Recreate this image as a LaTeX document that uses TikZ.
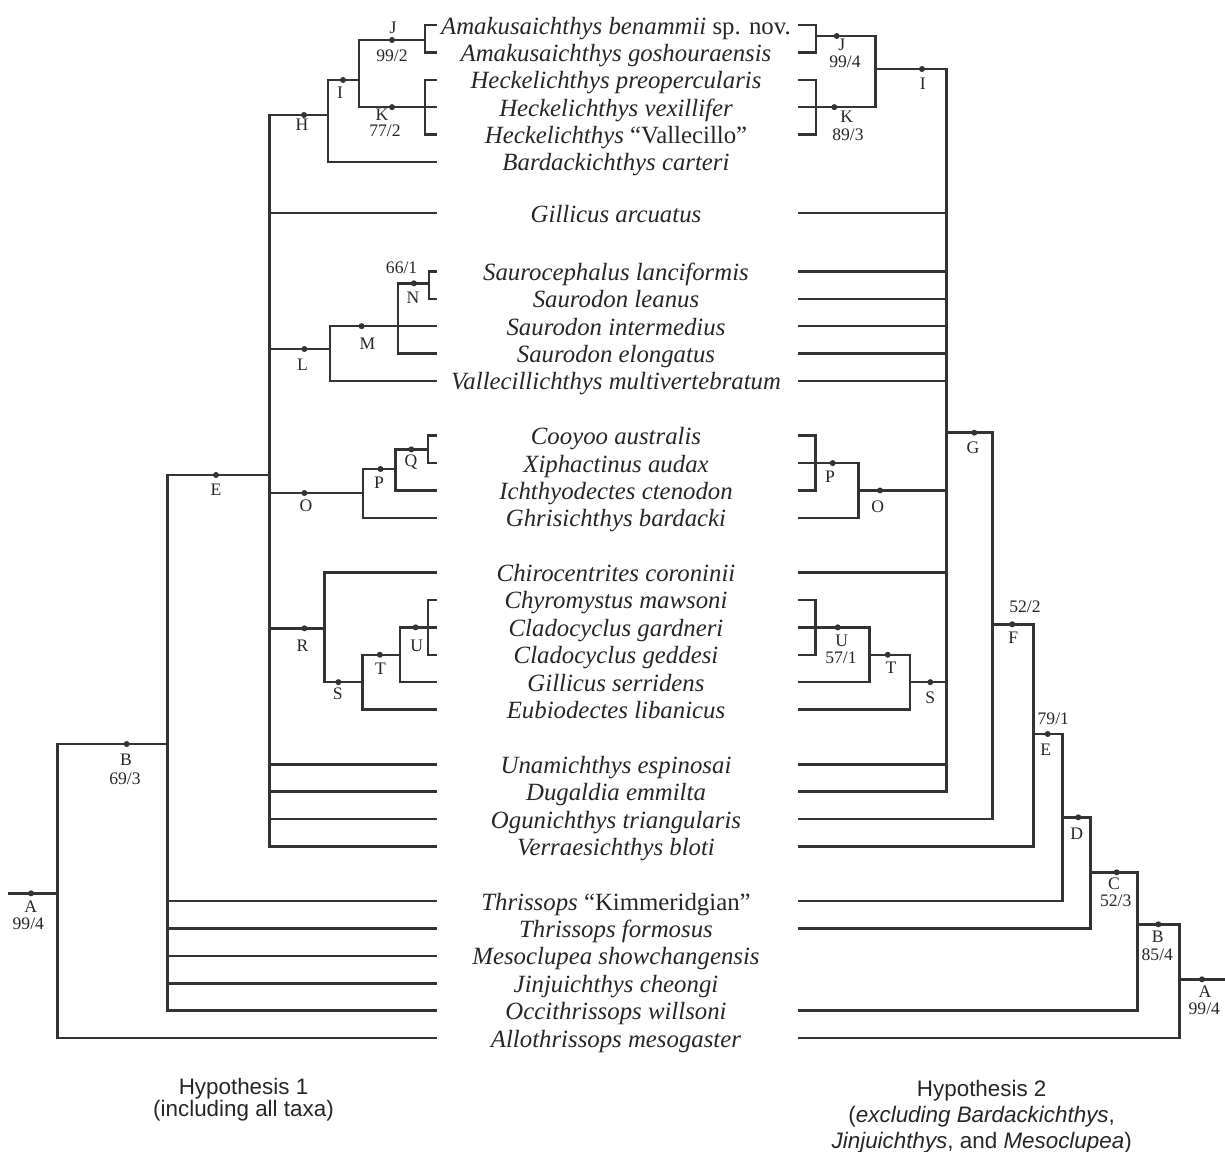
\documentclass[tikz,border=0pt]{standalone}
\usepackage{fontspec}
\setmainfont{Liberation Serif}
\newfontfamily\hypfont{Liberation Sans}
\definecolor{linecol}{HTML}{333333}
\definecolor{txtcol}{HTML}{262626}
\begin{document}
\begin{tikzpicture}[x=0.5pt,y=-0.5pt,
  br/.style={draw=linecol, line width=1.25pt, line cap=butt, line join=miter},
  dotn/.style={circle, fill=linecol, inner sep=0pt, minimum size=3pt},
  lab/.style={font=\fontsize{8.8}{10}\selectfont, text=txtcol, inner sep=0pt},
  taxon/.style={font=\fontsize{12.4}{14}\selectfont, text=txtcol, anchor=base, inner sep=0pt},
  hyp/.style={font=\hypfont\fontsize{11.2}{13}\selectfont, text=txtcol, align=center, inner sep=0pt}]
\useasboundingbox (0,0) rectangle (1225,1151);
% rows
\foreach \i/\s/\t in {
 1/0/{\textit{Amakusaichthys benammii} sp. nov.},
 2/1/{\textit{Amakusaichthys goshouraensis}},
 3/2/{\textit{Heckelichthys preopercularis}},
 4/3/{\textit{Heckelichthys vexillifer}},
 5/4/{\textit{Heckelichthys} “Vallecillo”},
 6/5/{\textit{Bardackichthys carteri}},
 7/6.87/{\textit{Gillicus arcuatus}},
 8/9/{\textit{Saurocephalus lanciformis}},
 9/10/{\textit{Saurodon leanus}},
 10/11/{\textit{Saurodon intermedius}},
 11/12/{\textit{Saurodon elongatus}},
 12/13/{\textit{Vallecillichthys multivertebratum}},
 13/15/{\textit{Cooyoo australis}},
 14/16/{\textit{Xiphactinus audax}},
 15/17/{\textit{Ichthyodectes ctenodon}},
 16/18/{\textit{Ghrisichthys bardacki}},
 17/20/{\textit{Chirocentrites coroninii}},
 18/21/{\textit{Chyromystus mawsoni}},
 19/22/{\textit{Cladocyclus gardneri}},
 20/23/{\textit{Cladocyclus geddesi}},
 21/24/{\textit{Gillicus serridens}},
 22/25/{\textit{Eubiodectes libanicus}},
 23/27/{\textit{Unamichthys espinosai}},
 24/28/{\textit{Dugaldia emmilta}},
 25/29/{\textit{Ogunichthys triangularis}},
 26/30/{\textit{Verraesichthys bloti}},
 27/32/{\textit{Thrissops} “Kimmeridgian”},
 28/33/{\textit{Thrissops formosus}},
 29/34/{\textit{Mesoclupea showchangensis}},
 30/35/{\textit{Jinjuichthys cheongi}},
 31/36/{\textit{Occithrissops willsoni}},
 32/37/{\textit{Allothrissops mesogaster}}} {
  \coordinate (l\i) at (437,{25+27.38*\s});
  \coordinate (r\i) at (798,{25+27.38*\s});
  \node[taxon] (t\i) at (616,{34+27.38*\s}) {\t};
}
% ---------- left tree coordinates ----------
\coordinate (lroot) at (8.3,893.3);
\coordinate (lA) at (57.7,893.3);
\coordinate (lB) at (167.3,744);
\coordinate (lE) at (269.3,475);
\coordinate (lH) at (328,115);
\coordinate (lI) at (358.8,80);
\coordinate (lJ) at (425,40);
\coordinate (lK) at (425,107.14);
\coordinate (lL) at (330,349);
\coordinate (lM) at (398,326.18);
\coordinate (lN) at (429,283.3);
\coordinate (lO) at (363,493);
\coordinate (lP) at (395.6,469);
\coordinate (lQ) at (428,449.4);
\coordinate (lR) at (324.4,628.3);
\coordinate (lS) at (362.3,682.12);
\coordinate (lT) at (399.8,654.74);
\coordinate (lU) at (428,627.36);
% left edges
\draw[br] (lroot) -- (lA);
\draw[br] (lA) |- (lB) (lA) |- (l32);
\draw[br] (lB) |- (lE) (lB) |- (l27) (lB) |- (l28) (lB) |- (l29) (lB) |- (l30) (lB) |- (l31);
\draw[br] (lE) |- (lH) (lE) |- (l7) (lE) |- (lL) (lE) |- (lO) (lE) |- (lR)
          (lE) |- (l23) (lE) |- (l24) (lE) |- (l25) (lE) |- (l26);
\draw[br] (lH) |- (lI) (lH) |- (l6);
\draw[br] (lI) |- (lJ) (lI) |- (lK);
\draw[br] (lJ) |- (l1) (lJ) |- (l2);
\draw[br] (lK) |- (l3) (lK) |- (l4) (lK) |- (l5);
\draw[br] (lL) |- (lM) (lL) |- (l12);
\draw[br] (lM) |- (lN) (lM) |- (l10) (lM) |- (l11);
\draw[br] (lN) |- (l8) (lN) |- (l9);
\draw[br] (lO) |- (lP) (lO) |- (l16);
\draw[br] (lP) |- (lQ) (lP) |- (l15);
\draw[br] (lQ) |- (l13) (lQ) |- (l14);
\draw[br] (lR) |- (l17) (lR) |- (lS);
\draw[br] (lS) |- (lT) (lS) |- (l22);
\draw[br] (lT) |- (lU) (lT) |- (l21);
\draw[br] (lU) |- (l18) (lU) |- (l19) (lU) |- (l20);
% left dots
\node[dotn] (dlA) at (31,893.3) {};
\node[dotn] (dlB) at (126.7,744) {};
\node[dotn] (dlE) at (216,475) {};
\node[dotn] (dlH) at (304,115) {};
\node[dotn] (dlI) at (343,80) {};
\node[dotn] (dlJ) at (392,40) {};
\node[dotn] (dlK) at (392,107.14) {};
\node[dotn] (dlL) at (304.4,349) {};
\node[dotn] (dlM) at (361.6,326.18) {};
\node[dotn] (dlN) at (413.9,283.3) {};
\node[dotn] (dlO) at (304.4,493) {};
\node[dotn] (dlP) at (380.5,469) {};
\node[dotn] (dlQ) at (411.4,449.4) {};
\node[dotn] (dlR) at (304.4,628.3) {};
\node[dotn] (dlS) at (338.4,682.12) {};
\node[dotn] (dlT) at (379.8,654.74) {};
\node[dotn] (dlU) at (415.6,627.36) {};
% left labels
\node[lab] (alJ) at (393,28) {J};
\node[lab] (blJ) at (392,56) {99/2};
\node[lab] (alI) at (340,93) {I};
\node[lab] (alK) at (382,115) {K};
\node[lab] (blK) at (385,131) {77/2};
\node[lab] (alH) at (302,125) {H};
\node[lab] (alL) at (302.6,365) {L};
\node[lab] (alM) at (367.5,344) {M};
\node[lab] (blN) at (401.6,268) {66/1};
\node[lab] (alN) at (413,298) {N};
\node[lab] (alQ) at (411,462) {Q};
\node[lab] (alP) at (379,483) {P};
\node[lab] (alO) at (306,506) {O};
\node[lab] (alR) at (302.6,646) {R};
\node[lab] (alS) at (337.7,694) {S};
\node[lab] (alT) at (380.5,669) {T};
\node[lab] (alU) at (416.7,645.7) {U};
\node[lab] (alE) at (216,490) {E};
\node[lab] (alB) at (126,760) {B};
\node[lab] (blB) at (125,779) {69/3};
\node[lab] (alA) at (30.7,907) {A};
\node[lab] (blA) at (28.3,924) {99/4};
% ---------- right tree coordinates ----------
\coordinate (rroot) at (1225,979.3);
\coordinate (rA) at (1179.3,979.3);
\coordinate (rB) at (1137.3,924.3);
\coordinate (rC) at (1090.3,872.3);
\coordinate (rD) at (1062.7,817.3);
\coordinate (rE) at (1033.3,734);
\coordinate (rF) at (992.7,624.3);
\coordinate (rG) at (946.7,432.7);
\coordinate (rI) at (875.7,69);
\coordinate (rJ) at (816,36);
\coordinate (rK) at (816,107.14);
\coordinate (rO) at (858.3,490.46);
\coordinate (rP) at (815.7,463.08);
\coordinate (rS) at (910,682.12);
\coordinate (rT) at (869.3,654.74);
\coordinate (rU) at (815.7,627.36);
% right edges
\draw[br] (rroot) -- (rA);
\draw[br] (rA) |- (rB) (rA) |- (r32);
\draw[br] (rB) |- (rC) (rB) |- (r31);
\draw[br] (rC) |- (rD) (rC) |- (r28);
\draw[br] (rD) |- (rE) (rD) |- (r27);
\draw[br] (rE) |- (rF) (rE) |- (r26);
\draw[br] (rF) |- (rG) (rF) |- (r25);
\draw[br] (rG) |- (rI) (rG) |- (r7) (rG) |- (r8) (rG) |- (r9) (rG) |- (r10) (rG) |- (r11) (rG) |- (r12)
          (rG) |- (rO) (rG) |- (r17) (rG) |- (rS) (rG) |- (r23) (rG) |- (r24);
\draw[br] (rI) |- (rJ) (rI) |- (rK);
\draw[br] (rJ) |- (r1) (rJ) |- (r2);
\draw[br] (rK) |- (r3) (rK) |- (r4) (rK) |- (r5);
\draw[br] (rO) |- (rP) (rO) |- (r16);
\draw[br] (rP) |- (r13) (rP) |- (r14) (rP) |- (r15);
\draw[br] (rS) |- (rT) (rS) |- (r22);
\draw[br] (rT) |- (rU) (rT) |- (r21);
\draw[br] (rU) |- (r18) (rU) |- (r19) (rU) |- (r20);
% right dots
\node[dotn] (drJ) at (836.7,36) {};
\node[dotn] (drK) at (834.3,107.14) {};
\node[dotn] (drI) at (922,69) {};
\node[dotn] (drG) at (974.3,432.7) {};
\node[dotn] (drP) at (832.7,463.08) {};
\node[dotn] (drO) at (880,490.46) {};
\node[dotn] (drU) at (837.7,627.36) {};
\node[dotn] (drT) at (887.7,654.74) {};
\node[dotn] (drS) at (930.3,682.12) {};
\node[dotn] (drF) at (1012.3,624.3) {};
\node[dotn] (drE) at (1047.7,734) {};
\node[dotn] (drD) at (1078.3,817.3) {};
\node[dotn] (drC) at (1116.7,872.3) {};
\node[dotn] (drB) at (1158.3,924.3) {};
\node[dotn] (drA) at (1202,979.3) {};
% right labels
\node[lab] (arJ) at (841.7,45) {J};
\node[lab] (brJ) at (845,62) {99/4};
\node[lab] (arK) at (846.7,117) {K};
\node[lab] (brK) at (848,135) {89/3};
\node[lab] (arI) at (922.7,84) {I};
\node[lab] (arG) at (973,448) {G};
\node[lab] (arP) at (830,477) {P};
\node[lab] (arO) at (877.7,506.7) {O};
\node[lab] (arU) at (841.7,641) {U};
\node[lab] (brU) at (841,658) {57/1};
\node[lab] (arT) at (891,668) {T};
\node[lab] (arS) at (930.3,698) {S};
\node[lab] (brF) at (1025,606.7) {52/2};
\node[lab] (arF) at (1013.3,638) {F};
\node[lab] (brE) at (1053.3,719) {79/1};
\node[lab] (arE) at (1045.7,749.3) {E};
\node[lab] (arD) at (1076.7,833.3) {D};
\node[lab] (arC) at (1114,884) {C};
\node[lab] (brC) at (1115.7,901) {52/3};
\node[lab] (arB) at (1157.7,937) {B};
\node[lab] (brB) at (1157.3,955) {85/4};
\node[lab] (arA) at (1205,992) {A};
\node[lab] (brA) at (1204.3,1008.3) {99/4};
% hypothesis captions
\node[hyp] (hyp1) at (243.5,1100) {Hypothesis 1\\[-2pt](including all taxa)};
\node[hyp] (hyp2) at (981.7,1117) {Hypothesis 2\\(\textit{excluding Bardackichthys},\\\textit{Jinjuichthys}, and \textit{Mesoclupea})};
\end{tikzpicture}
\end{document}
